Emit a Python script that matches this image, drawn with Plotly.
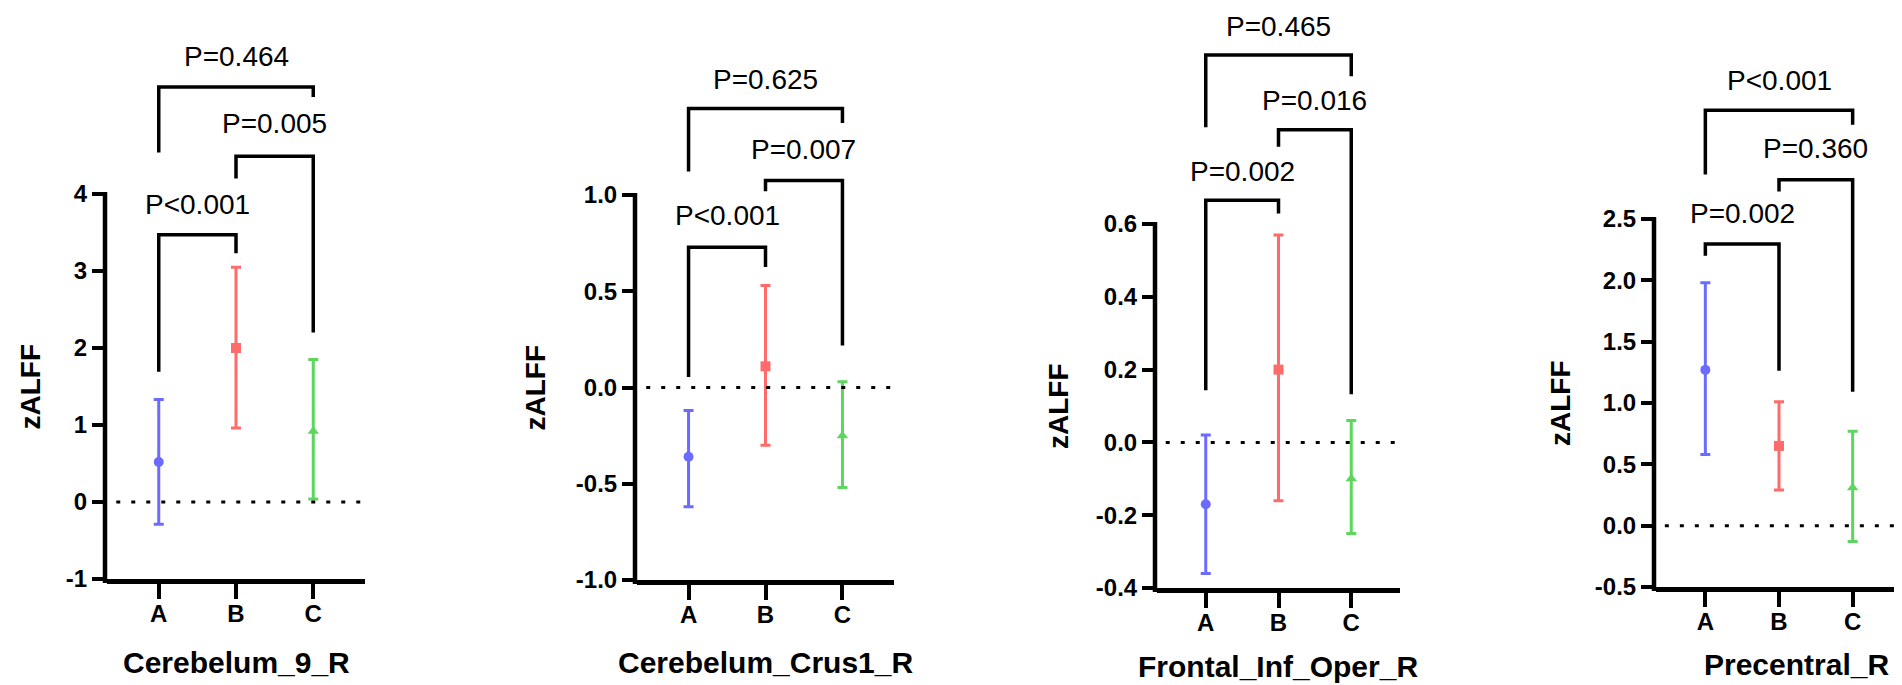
import plotly.graph_objects as go

groups = ["A", "B", "C"]
regions = ["Cerebelum_9_R", "Cerebelum_Crus1_R", "Frontal_Inf_Oper_R", "Precentral_R"]

# mean and error bar ends (low / high) per region, groups A, B, C
mean_vals = [[0.52, 2.00, 0.92], [-0.36, 0.11, -0.25], [-0.17, 0.20, -0.10], [1.27, 0.65, 0.31]]
low_vals = [[-0.29, 0.96, 0.04], [-0.62, -0.30, -0.52], [-0.36, -0.16, -0.25], [0.58, 0.29, -0.13]]
high_vals = [[1.33, 3.05, 1.85], [-0.12, 0.53, 0.03], [0.02, 0.57, 0.06], [1.98, 1.01, 0.77]]

ytick_vals = [[-1, 0, 1, 2, 3, 4],
              [-1.0, -0.5, 0.0, 0.5, 1.0],
              [-0.4, -0.2, 0.0, 0.2, 0.4, 0.6],
              [-0.5, 0.0, 0.5, 1.0, 1.5, 2.0, 2.5]]
ytick_text = [["-1", "0", "1", "2", "3", "4"],
              ["-1.0", "-0.5", "0.0", "0.5", "1.0"],
              ["-0.4", "-0.2", "0.0", "0.2", "0.4", "0.6"],
              ["-0.5", "0.0", "0.5", "1.0", "1.5", "2.0", "2.5"]]

# comparisons A-B, B-C, A-C
pairs = [(0, 1), (1, 2), (0, 2)]
p_labels = [["P<0.001", "P=0.005", "P=0.464"],
            ["P<0.001", "P=0.007", "P=0.625"],
            ["P=0.002", "P=0.016", "P=0.465"],
            ["P=0.002", "P=0.360", "P<0.001"]]
# bar height, left leg end, right leg end, label height
brackets = [[(3.47, 1.69, 3.23, 3.86), (4.49, 4.20, 2.20, 4.92), (5.39, 4.54, 5.26, 5.79)],
            [(0.728, 0.054, 0.626, 0.891), (1.075, 1.020, 0.218, 1.238), (1.449, 1.122, 1.374, 1.599)],
            [(0.665, 0.143, 0.629, 0.744), (0.859, 0.812, 0.132, 0.938), (1.064, 0.866, 1.006, 1.143)],
            [(2.297, 2.201, 1.262, 2.543), (2.820, 2.724, 1.091, 3.076), (3.386, 2.863, 3.269, 3.632)]]

colors = ["#6b6bff", "#ff6b6b", "#5cd65c"]
symbols = ["circle", "square", "triangle-up"]

# page layout in pixels
W, H = 1902, 685
ax_left = [99, 629, 1149, 1648]
ax_right = [357, 886, 1392, 1894]
ax_bottom = [571, 572, 580, 579]
ax_top = [186, 187, 216, 211]
ytitle_x = [22, 527, 1050, 1552]
xtitle_x = [228, 757, 1270, 1788]
xtitle_y = [654, 654, 658, 656]
xr = [-0.67, 2.67]
FONT = "Liberation Sans"


def px(v):
    return v / W


def py(v):
    return 1 - v / H


tick_font = dict(family=FONT, size=24, color="black", weight="bold")

fig = go.Figure()
shapes = []
annotations = []
layout = {}

for i in range(4):
    n = "" if i == 0 else str(i + 1)
    xa, ya = "x" + n, "y" + n
    ymin, ymax = ytick_vals[i][0], ytick_vals[i][-1]
    ppu = (ax_bottom[i] - ax_top[i]) / (ymax - ymin)
    rtop = ymax + ax_top[i] / ppu

    for j, g in enumerate(groups):
        m = mean_vals[i][j]
        fig.add_trace(go.Scatter(
            x=[j], y=[m], mode="markers", xaxis=xa, yaxis=ya, showlegend=False, name=g,
            marker=dict(symbol=symbols[j], color=colors[j], size=10),
            error_y=dict(type="data", symmetric=False,
                         array=[high_vals[i][j] - m], arrayminus=[m - low_vals[i][j]],
                         color=colors[j], thickness=3, width=5)))

    layout["xaxis" + n] = dict(
        domain=[px(ax_left[i]), px(ax_right[i])], range=xr, anchor=ya,
        tickvals=[0, 1, 2], ticktext=groups, ticks="outside", ticklen=15, tickwidth=4,
        tickcolor="black", showline=True, linewidth=4.5, linecolor="black",
        ticklabelstandoff=-6,
        showgrid=False, zeroline=False, fixedrange=True, automargin=False,
        tickfont=tick_font)
    layout["yaxis" + n] = dict(
        domain=[py(ax_bottom[i]), 1], range=[ymin, rtop], anchor=xa,
        tickvals=ytick_vals[i], ticktext=ytick_text[i], ticks="outside", ticklen=14,
        tickwidth=4, tickcolor="black", showline=False, showgrid=False,
        zeroline=False, fixedrange=True, automargin=False, tickfont=tick_font)

    # y axis line only over the data range
    shapes.append(dict(type="line", xref="paper", yref="paper",
                       x0=px(ax_left[i] - 2), x1=px(ax_left[i] - 2),
                       y0=py(ax_bottom[i] + 4), y1=py(ax_top[i] - 2),
                       line=dict(color="black", width=4.5)))
    # dotted zero line
    shapes.append(dict(type="line", xref=xa, yref=ya, x0=-0.55, x1=xr[1], y0=0, y1=0,
                       line=dict(color="black", width=3, dash="4px,11px")))

    for k, (a, b) in enumerate(pairs):
        bar, l_end, r_end, ty = brackets[i][k]
        shapes.append(dict(type="path", xref=xa, yref=ya,
                           path=f"M {a},{l_end} L {a},{bar} L {b},{bar} L {b},{r_end}",
                           line=dict(color="black", width=3.5)))
        annotations.append(dict(x=(a + b) / 2, y=ty, xref=xa, yref=ya, text=p_labels[i][k],
                                showarrow=False, font=dict(family=FONT, size=28, color="black")))

    annotations.append(dict(x=px(ytitle_x[i]), y=py((ax_top[i] + ax_bottom[i]) / 2),
                            xref="paper", yref="paper", text="<b>zALFF</b>", textangle=-90,
                            showarrow=False, xanchor="center", yanchor="middle",
                            font=dict(family=FONT, size=28, color="black")))
    annotations.append(dict(x=px(xtitle_x[i]), y=py(xtitle_y[i]),
                            xref="paper", yref="paper", text="<b>" + regions[i] + "</b>",
                            showarrow=False, xanchor="center", yanchor="middle",
                            font=dict(family=FONT, size=30, color="black")))

fig.update_layout(**layout)
fig.update_layout(width=W, height=H, margin=dict(l=0, r=0, t=0, b=0),
                  paper_bgcolor="white", plot_bgcolor="white",
                  font=dict(family=FONT, color="black"),
                  shapes=shapes, annotations=annotations)

fig.write_html("out.html")
